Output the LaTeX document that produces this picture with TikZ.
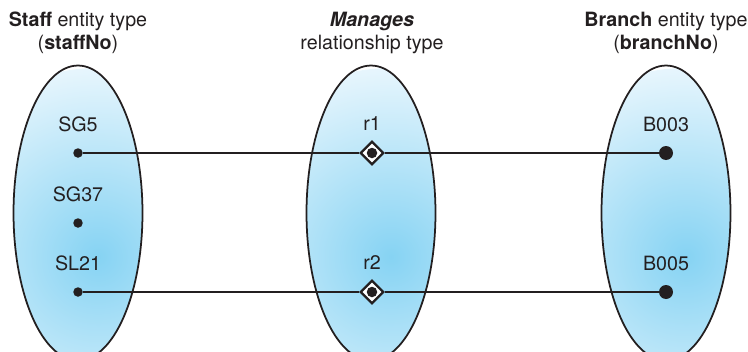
\documentclass[tikz,border=0pt]{standalone}
\usepackage{fontspec}
\setmainfont{TeX Gyre Heros}
\usetikzlibrary{shapes.geometric}
\definecolor{ink}{HTML}{231F20}
\definecolor{setblue}{HTML}{86D3F3}
\definecolor{setpale}{HTML}{E8F6FD}

\begin{document}
\begin{tikzpicture}[x=0.02cm,y=-0.02cm,
  set/.style={ellipse,draw=ink,line width=1pt,inner sep=0pt,minimum width=2.58cm,minimum height=5.9cm,
    path picture={\shade[inner color=setblue,outer color=setpale]
      ([shift={(0.4cm,-0.9cm)}]path picture bounding box.center) circle (3.8cm);}},
  head/.style={font=\fontsize{11.2}{13.4}\selectfont,align=center,text=ink},
  member/.style={font=\fontsize{11.2}{13}\selectfont,text=ink,inner sep=0pt},
  elem/.style={circle,fill=ink,inner sep=0pt,minimum size=#1},
  link/.style={diamond,draw=ink,fill=white,line width=1.3pt,inner sep=0pt,minimum size=0.47cm},
  tie/.style={draw=ink,line width=0.95pt}]
\useasboundingbox (0,0) rectangle (748,352);
\clip (0,0) rectangle (748,352);

% the three sets
\node[set] (staff) at (78,213) {};
\node[set] (manages) at (371,213) {};
\node[set] (branch) at (666,213) {};

\node[head] (staff-head) at (78,33) {\textbf{Staff} entity type\\(\textbf{staffNo})};
\node[head] (manages-head) at (372,33) {\textbf{\textit{Manages}}\\relationship type};
\node[head] (branch-head) at (666,33) {\textbf{Branch} entity type\\(\textbf{branchNo})};

% members
\foreach \n/\y/\t in {sg5/153/SG5, sg37/223/SG37, sl21/292/SL21} {
  \node[elem=0.19cm] (\n) at (78,\y) {};
  \node[member] (\n-lab) at (78,\y-29) {\t};
}
\foreach \n/\y in {r1/153, r2/292} {
  \node[link] (\n) at (372,\y) {};
  \node[elem=0.21cm] (\n-dot) at (\n) {};
  \node[member] (\n-lab) at (372,\y-29) {\n};
}
\foreach \n/\y/\t in {b003/153/B003, b005/292/B005} {
  \node[elem=0.28cm] (\n) at (666,\y) {};
  \node[member] (\n-lab) at (666,\y-29) {\t};
}

\draw[tie] (sg5) -- (r1) -- (b003);
\draw[tie] (sl21) -- (r2) -- (b005);
\end{tikzpicture}
\end{document}
